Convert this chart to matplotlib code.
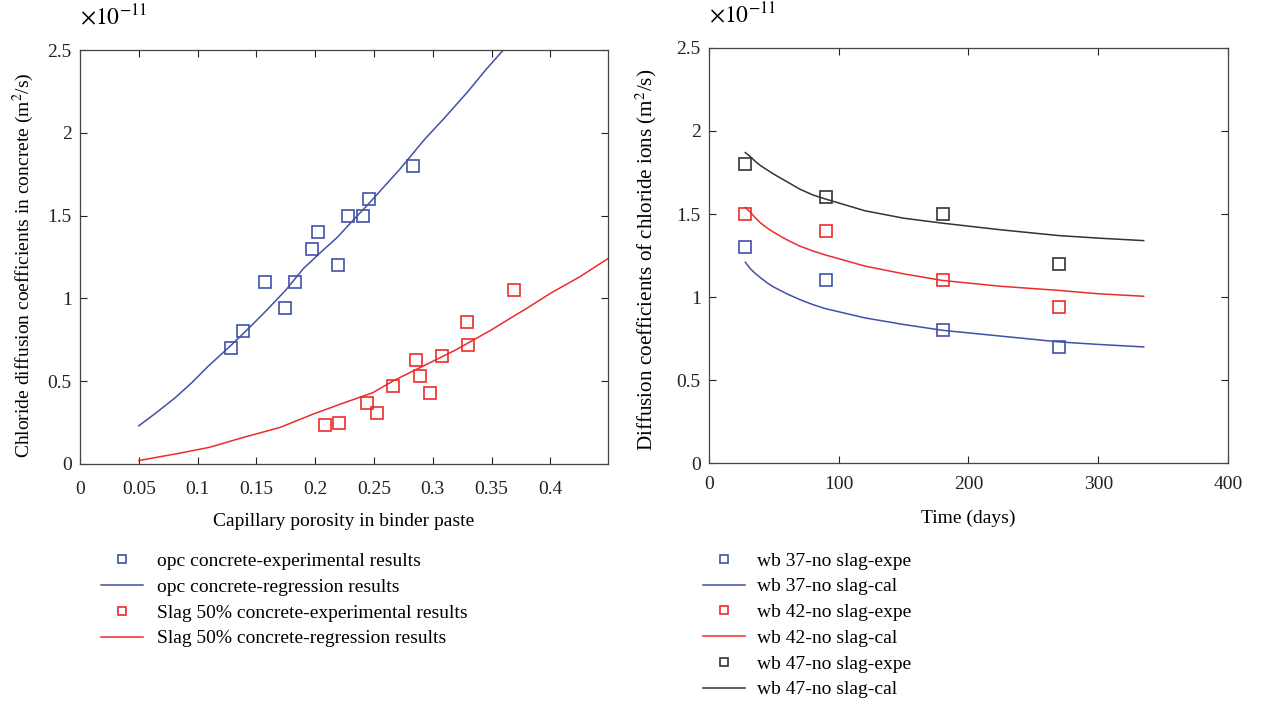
import matplotlib.pyplot as plt
import numpy as np

plt.rcParams['font.family'] = ['Liberation Serif', 'DejaVu Serif']
plt.rcParams['mathtext.fontset'] = 'stix'
plt.rcParams['font.size'] = 14

BLUE = '#3f51a8'
RED = '#ee2b2b'
BLACK = '#333333'

# left panel: porosity vs chloride diffusion (x 1e-11 m2/s)
opc_por = [0.128, 0.139, 0.157, 0.174, 0.183, 0.197, 0.202, 0.219, 0.228, 0.241, 0.246, 0.283]
opc_d = [0.70, 0.80, 1.10, 0.94, 1.10, 1.30, 1.40, 1.20, 1.50, 1.50, 1.60, 1.80]
slag_por = [0.208, 0.220, 0.244, 0.253, 0.266, 0.286, 0.289, 0.298, 0.308, 0.329, 0.330, 0.369]
slag_d = [0.235, 0.25, 0.37, 0.31, 0.47, 0.63, 0.53, 0.43, 0.65, 0.86, 0.72, 1.05]

opc_fit_x = [0.05, 0.065, 0.081, 0.095, 0.109, 0.129, 0.145, 0.159, 0.175, 0.190, 0.205, 0.219,
             0.232, 0.244, 0.258, 0.272, 0.293, 0.31, 0.33, 0.345, 0.36]
opc_fit_y = [0.23, 0.31, 0.40, 0.49, 0.59, 0.72, 0.83, 0.93, 1.05, 1.18, 1.28, 1.37,
             1.47, 1.56, 1.67, 1.78, 1.96, 2.09, 2.25, 2.38, 2.50]
slag_fit_x = [0.05, 0.085, 0.11, 0.139, 0.17, 0.198, 0.221, 0.249, 0.266, 0.283, 0.303,
              0.32, 0.335, 0.35, 0.366, 0.38, 0.40, 0.425, 0.449]
slag_fit_y = [0.02, 0.065, 0.10, 0.16, 0.22, 0.30, 0.36, 0.43, 0.50, 0.56, 0.63,
              0.69, 0.75, 0.81, 0.88, 0.94, 1.03, 1.13, 1.24]

# right panel: time vs diffusion coefficient
t_exp = [28, 90, 180, 270]
wb37_exp = [1.30, 1.10, 0.80, 0.70]
wb42_exp = [1.50, 1.40, 1.10, 0.94]
wb47_exp = [1.80, 1.60, 1.50, 1.20]

t_cal = [28, 32, 36, 40, 45, 50, 60, 70, 80, 90, 120, 150, 180, 225, 270, 300, 335]
wb37_cal = [1.21, 1.17, 1.14, 1.115, 1.085, 1.06, 1.02, 0.985, 0.955, 0.93, 0.875, 0.835,
            0.80, 0.765, 0.73, 0.715, 0.70]
wb42_cal = [1.54, 1.51, 1.475, 1.445, 1.415, 1.39, 1.345, 1.307, 1.278, 1.253, 1.187, 1.14,
            1.10, 1.065, 1.04, 1.02, 1.005]
wb47_cal = [1.87, 1.845, 1.815, 1.79, 1.765, 1.74, 1.695, 1.65, 1.615, 1.59, 1.52, 1.475,
            1.445, 1.405, 1.37, 1.355, 1.34]

fig = plt.figure(figsize=(12.66, 7.05), dpi=100)
ax1 = fig.add_axes([0.0632, 0.342, 0.417, 0.587])
ax2 = fig.add_axes([0.560, 0.343, 0.410, 0.589])

ms = 9
mew = 1.2

ax1.plot(opc_por, opc_d, 's', mfc='none', mec=BLUE, ms=ms, mew=mew,
         label='opc concrete-experimental results')
ax1.plot(opc_fit_x, opc_fit_y, '-', color=BLUE, lw=1.1,
         label='opc concrete-regression results')
ax1.plot(slag_por, slag_d, 's', mfc='none', mec=RED, ms=ms, mew=mew,
         label='Slag 50% concrete-experimental results')
ax1.plot(slag_fit_x, slag_fit_y, '-', color=RED, lw=1.1,
         label='Slag 50% concrete-regression results')
ax1.set_xlim(0, 0.449)
ax1.set_ylim(0, 2.5)
ax1.set_xticks(np.arange(0, 0.41, 0.05))
ax1.set_xticklabels(['0', '0.05', '0.1', '0.15', '0.2', '0.25', '0.3', '0.35', '0.4'])
ax1.set_yticks([0, 0.5, 1, 1.5, 2, 2.5])
ax1.set_yticklabels(['0', '0.5', '1', '1.5', '2', '2.5'])
ax1.set_xlabel('Capillary porosity in binder paste', labelpad=11)
ax1.set_ylabel('Chloride diffusion coefficients in concrete (m$^2$/s)')
ax1.yaxis.set_label_coords(-0.084, 0.48)

ax2.plot(t_exp, wb37_exp, 's', mfc='none', mec=BLUE, ms=ms, mew=mew, label='wb 37-no slag-expe')
ax2.plot(t_cal, wb37_cal, '-', color=BLUE, lw=1.1, label='wb 37-no slag-cal')
ax2.plot(t_exp, wb42_exp, 's', mfc='none', mec=RED, ms=ms, mew=mew, label='wb 42-no slag-expe')
ax2.plot(t_cal, wb42_cal, '-', color=RED, lw=1.1, label='wb 42-no slag-cal')
ax2.plot(t_exp, wb47_exp, 's', mfc='none', mec=BLACK, ms=ms, mew=mew, label='wb 47-no slag-expe')
ax2.plot(t_cal, wb47_cal, '-', color=BLACK, lw=1.1, label='wb 47-no slag-cal')
ax2.set_xlim(0, 400)
ax2.set_ylim(0, 2.5)
ax2.set_xticks([0, 100, 200, 300, 400])
ax2.set_yticks([0, 0.5, 1, 1.5, 2, 2.5])
ax2.set_yticklabels(['0', '0.5', '1', '1.5', '2', '2.5'])
ax2.set_xlabel('Time (days)', labelpad=12)
ax2.set_ylabel('Diffusion coefficients of chloride ions (m$^2$/s)', fontsize=15.2)
ax2.yaxis.set_label_coords(-0.097, 0.49)

for ax in (ax1, ax2):
    ax.tick_params(direction='in', top=True, right=True, length=5, width=0.8,
                   colors='#222222', labelsize=14)
    ax.tick_params(axis='y', pad=6)
    for s in ax.spines.values():
        s.set_color('#444444')
        s.set_linewidth(0.9)
    ax.text(0.0, 1.05, r'$\times10^{-11}$', transform=ax.transAxes, fontsize=17,
            ha='left', va='bottom')
ax1.tick_params(axis='x', pad=12)
ax2.tick_params(axis='x', pad=9)

ax1.legend(loc='upper left', bbox_to_anchor=(0.025, -0.195), frameon=False,
           handlelength=2.15, handletextpad=0.72, labelspacing=0.42,
           markerscale=0.65, fontsize=14, borderaxespad=0)
ax2.legend(loc='upper left', bbox_to_anchor=(-0.027, -0.195), frameon=False,
           handlelength=2.15, handletextpad=0.62, labelspacing=0.42,
           markerscale=0.65, fontsize=14, borderaxespad=0)

fig.savefig('out.png', dpi=100)
